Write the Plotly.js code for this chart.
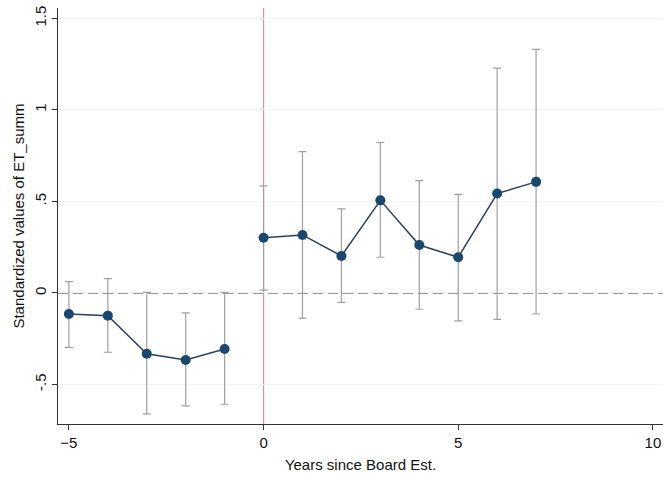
<!DOCTYPE html>
<html><head><meta charset="utf-8">
<script src="https://cdn.plot.ly/plotly-3.0.1.min.js"></script>
<style>html,body{margin:0;padding:0;background:#fff}#chart{width:663px;height:477px}</style>
</head><body><div id="chart"></div>
<script>
const years = [-5,-4,-3,-2,-1,0,1,2,3,4,5,6,7];
const estimates = [-0.115,-0.124,-0.332,-0.366,-0.306,0.302,0.317,0.202,0.506,0.262,0.195,0.543,0.607];
const ciUpper = [0.062,0.078,0.003,-0.109,0.003,0.585,0.772,0.459,0.822,0.614,0.539,1.228,1.331];
const ciLower = [-0.297,-0.324,-0.661,-0.617,-0.608,0.016,-0.138,-0.051,0.195,-0.089,-0.153,-0.144,-0.115];
const yTickVals = [-0.5,0,0.5,1,1.5];
const yTickText = ['-.5','0','.5','1','1.5'];
const xTickVals = [-5,0,5,10];

function makeTrace(keep){
  const idx = years.map((_,i)=>i).filter(i=>keep(years[i]));
  return {
    x: idx.map(i=>years[i]), y: idx.map(i=>estimates[i]), type:'scatter', mode:'lines+markers',
    line:{color:'#2b3f55', width:1.5},
    marker:{color:'#1a476f', size:10},
    error_y:{type:'data', symmetric:false,
      array: idx.map(i=>ciUpper[i]-estimates[i]),
      arrayminus: idx.map(i=>estimates[i]-ciLower[i]),
      color:'#a0a0a0', thickness:1.2, width:4},
    hoverinfo:'skip', showlegend:false
  };
}
const traces = [makeTrace(v=>v<0), makeTrace(v=>v>=0)];

const layout = {
  width:663, height:477,
  margin:{l:58, r:0, t:8, b:53},
  paper_bgcolor:'#fff', plot_bgcolor:'#fff',
  font:{family:'Liberation Sans, Arial, sans-serif', size:15, color:'#111'},
  xaxis:{range:[-5.28,10.26], tickvals:xTickVals, ticks:'outside', ticklen:5, tickcolor:'#333',
    showline:true, linecolor:'#333', linewidth:1, showgrid:false, zeroline:false,
    tickfont:{size:15}, title:{text:'Years since Board Est.', font:{size:15}, standoff:9}},
  yaxis:{range:[-0.716,1.557], tickvals:yTickVals, ticktext:yTickText, tickangle:-90, ticks:'outside', ticklen:5, tickcolor:'#333',
    showline:true, linecolor:'#333', linewidth:1, showgrid:true, gridcolor:'#f1f4f6', zeroline:false,
    tickfont:{size:15}, title:{text:'Standardized values of ET_summ', font:{size:15}, standoff:3}},
  shapes:[
    {type:'line', xref:'x', yref:'paper', x0:0, x1:0, y0:0, y1:1, line:{color:'#f28a96', width:1.2}, layer:'below'},
    {type:'line', xref:'paper', yref:'y', x0:0, x1:1, y0:0, y1:0, line:{color:'#7a7a7a', width:1.8, dash:'10px,5px'}, layer:'below'}
  ]
};
Plotly.newPlot('chart',traces,layout,{displayModeBar:false, staticPlot:true});
</script></body></html>
